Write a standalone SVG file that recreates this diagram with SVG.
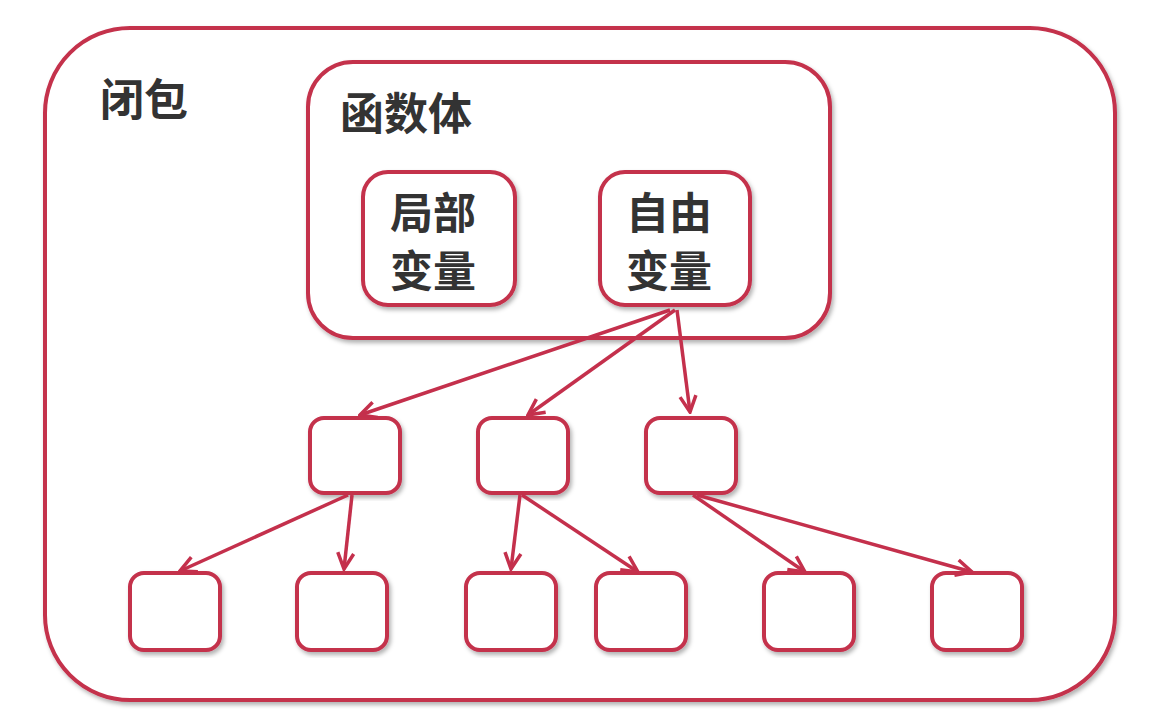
<svg xmlns="http://www.w3.org/2000/svg" width="1154" height="726" viewBox="0 0 1154 726">
<defs>
<marker id="a" viewBox="0 0 20 20" refX="18" refY="10" markerWidth="20" markerHeight="20" markerUnits="userSpaceOnUse" orient="auto"><path d="M2,2 L18,10 L2,18" fill="none" stroke="#c4304c" stroke-width="3.5"/></marker>
<filter id="s"><feDropShadow dx="2" dy="3" stdDeviation="2" flood-color="#000" flood-opacity="0.3"/></filter>
</defs>
<style>
rect{fill:#fff;stroke:#c4304c;stroke-width:4;filter:url(#s)}
text{font-family:"Noto Sans CJK SC",sans-serif;font-weight:bold;fill:#333}
line{stroke:#c4304c;stroke-width:3.5;marker-end:url(#a)}
</style>
<rect width="1154" height="726" fill="#fff" style="stroke:none;filter:none"/>
<g id="closure"><rect x="45" y="28" width="1070" height="672" rx="85"/><text x="100" y="116" font-size="44">闭包</text></g>
<g id="funcbody"><rect x="308" y="62" width="522" height="276" rx="45"/><text x="340" y="130" font-size="44">函数体</text></g>
<g id="local"><rect x="363" y="172" width="152" height="133" rx="25"/><text x="433" y="229" font-size="43" text-anchor="middle">局部</text><text x="433" y="287" font-size="43" text-anchor="middle">变量</text></g>
<g id="free"><rect x="600" y="172" width="150" height="133" rx="25"/><text x="669" y="229" font-size="43" text-anchor="middle">自由</text><text x="669" y="287" font-size="43" text-anchor="middle">变量</text></g>
<g id="m1"><rect x="310" y="418" width="90" height="75" rx="14"/></g>
<g id="m2"><rect x="478" y="418" width="90" height="75" rx="14"/></g>
<g id="m3"><rect x="646" y="418" width="90" height="75" rx="14"/></g>
<g id="b1"><rect x="130" y="573" width="90" height="77" rx="14"/></g>
<g id="b2"><rect x="297" y="573" width="90" height="77" rx="14"/></g>
<g id="b3"><rect x="466" y="573" width="90" height="77" rx="14"/></g>
<g id="b4"><rect x="596" y="573" width="90" height="77" rx="14"/></g>
<g id="b5"><rect x="764" y="573" width="90" height="77" rx="14"/></g>
<g id="b6"><rect x="932" y="573" width="90" height="77" rx="14"/></g>
<g id="connectors">
<line x1="670" y1="310" x2="360" y2="415"/>
<line x1="675" y1="310" x2="528" y2="415"/>
<line x1="677" y1="310" x2="690" y2="412"/>
<line x1="348" y1="495" x2="180" y2="571"/>
<line x1="352" y1="495" x2="344" y2="569"/>
<line x1="520" y1="495" x2="511" y2="569"/>
<line x1="522" y1="495" x2="638" y2="572"/>
<line x1="693" y1="495" x2="805" y2="572"/>
<line x1="697" y1="495" x2="972" y2="572"/>
</g>
</svg>
